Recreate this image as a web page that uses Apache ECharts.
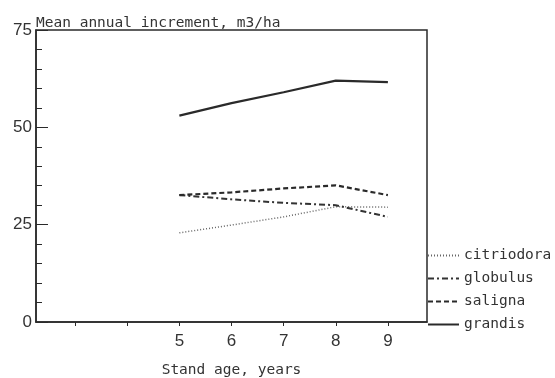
<!DOCTYPE html>
<html>
<head>
<meta charset="utf-8">
<script src="https://cdn.jsdelivr.net/npm/echarts@6/dist/echarts.min.js"></script>
<style>
  html, body { margin: 0; padding: 0; background: #fff; }
  #chart { width: 555px; height: 378px; }
</style>
</head>
<body>
<div id="chart"></div>
<script>
// stand age (years)
const ages = [5, 6, 7, 8, 9];
const xTicks = [3, 4, 5, 6, 7, 8, 9];
const xLabels = [5, 6, 7, 8, 9];
const yLabels = [0, 25, 50, 75];

// mean annual increment, m3/ha
const citriodora = [22.9, 24.9, 27.0, 29.6, 29.5];
const globulus = [32.6, 31.5, 30.6, 30.0, 27.0];
const saligna = [32.6, 33.3, 34.3, 35.1, 32.6];
const grandis = [53.0, 56.2, 59.0, 62.0, 61.6];

const monoFont = 'DejaVu Sans Mono';
const ink = '#2a2a2a';

const toPoints = (vals) => ages.map((a, i) => [a, vals[i]]);

const makeSeries = (name, vals, width, dash, color) => ({
  name: name,
  type: 'line',
  data: toPoints(vals),
  symbol: 'none',
  smooth: false,
  lineStyle: { color: color, width: width, type: dash },
  itemStyle: { color: color },
});

const chart = echarts.init(document.getElementById('chart'));

const option = {
  animation: false,
  grid: {
    left: 36,
    top: 30,
    right: 128,
    bottom: 56,
    outerBoundsMode: 'none',
    show: true,
    borderColor: ink,
    borderWidth: 1.5,
  },
  legend: {
    orient: 'vertical',
    left: 427,
    top: 248,
    padding: 0,
    itemWidth: 31,
    itemHeight: 14,
    itemGap: 8,
    data: ['citriodora', 'globulus', 'saligna', 'grandis'],
    itemStyle: { color: 'transparent', borderWidth: 0, opacity: 0 },
    textStyle: { fontFamily: monoFont, fontSize: 14.5, color: '#333' },
  },
  xAxis: {
    type: 'value',
    min: 2.25,
    max: 9.75,
    name: 'Stand age, years',
    nameLocation: 'middle',
    nameGap: 41,
    nameMoveOverlap: false,
    nameTextStyle: { fontFamily: monoFont, fontSize: 14.5, color: '#333' },
    axisLine: { lineStyle: { color: ink, width: 1.5 } },
    axisTick: {
      show: true,
      length: 4,
      customValues: xTicks,
      lineStyle: { color: ink, width: 1 },
    },
    axisLabel: {
      customValues: xLabels,
      margin: 11,
      fontFamily: 'Liberation Sans',
      fontSize: 17,
      color: '#333',
    },
    splitLine: { show: false },
  },
  yAxis: {
    type: 'value',
    min: 0,
    max: 75,
    interval: 25,
    name: 'Mean annual increment, m3/ha',
    nameLocation: 'end',
    nameGap: -1,
    nameMoveOverlap: false,
    nameTextStyle: {
      fontFamily: monoFont,
      fontSize: 14.5,
      color: '#333',
      align: 'left',
      verticalAlign: 'bottom',
    },
    axisLine: { show: true, lineStyle: { color: ink, width: 1.5 } },
    axisTick: {
      show: true,
      inside: true,
      length: 12,
      lineStyle: { color: ink, width: 1 },
    },
    minorTick: {
      show: true,
      splitNumber: 5,
      length: 6,
      lineStyle: { color: ink, width: 1 },
    },
    axisLabel: {
      customValues: yLabels,
      margin: 4,
      fontFamily: 'Liberation Sans',
      fontSize: 17,
      color: '#333',
    },
    splitLine: { show: false },
  },
  series: [
    makeSeries('citriodora', citriodora, 1.5, [1, 2], '#666'),
    makeSeries('globulus', globulus, 2, [6, 3, 2, 3], '#333'),
    makeSeries('saligna', saligna, 2.2, [5, 3], '#2a2a2a'),
    makeSeries('grandis', grandis, 2.2, 'solid', '#2a2a2a'),
  ],
};

chart.setOption(option);
</script>
</body>
</html>
